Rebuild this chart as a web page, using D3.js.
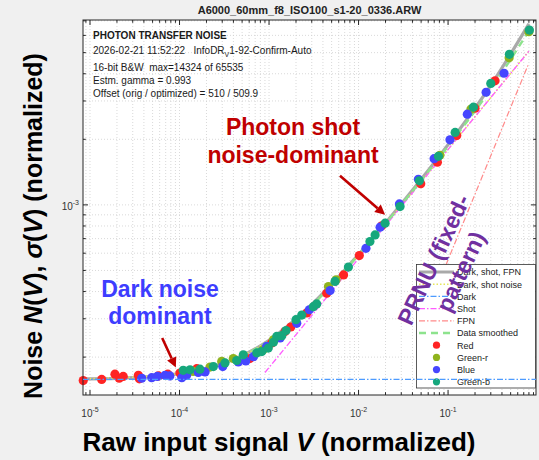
<!DOCTYPE html>
<html>
<head>
<meta charset="utf-8">
<script src="https://cdn.jsdelivr.net/npm/d3@7"></script>
<style>
  html, body { margin: 0; padding: 0; background: #f0f0f0; }
  svg { display: block; font-family: "Liberation Sans", Arial, sans-serif; }
</style>
</head>
<body>
<svg id="chart" width="539" height="460"></svg>
<script>
// ---- Measured noise per channel: signal V (normalized) and noise N(V) ----
const redV = [8.4e-6, 1.35e-5, 1.90e-5, 2.12e-5, 2.35e-5, 3.47e-5, 3.56e-5, 5.8e-5, 7.4e-5, 1.01e-4, 1.56e-4, 6.1e-4, 1.07e-3, 1.51e-3, 1.75e-3, 2.64e-3, 4.41e-3, 6.8e-3, 1.02e-2, 1.82e-2, 4.95e-2, 7.6e-2, 0.125, 0.200, 0.335];
const redN = [1.56e-4, 1.58e-4, 1.67e-4, 1.60e-4, 1.63e-4, 1.65e-4, 1.59e-4, 1.64e-4, 1.67e-4, 1.69e-4, 1.77e-4, 1.97e-4, 2.32e-4, 2.62e-4, 2.75e-4, 3.19e-4, 3.93e-4, 4.77e-4, 5.85e-4, 8.01e-4, 1.25e-3, 1.57e-3, 2.08e-3, 2.78e-3, 3.71e-3];

const greenRV = [1.42e-4, 2.19e-4, 2.96e-4, 3.99e-4, 8.6e-4, 1.12e-3, 4.61e-3, 5.61e-3, 8.1e-2, 0.18, 0.481, 0.80];
const greenRN = [1.72e-4, 1.80e-4, 1.91e-4, 1.97e-4, 2.16e-4, 2.40e-4, 4.22e-4, 4.53e-4, 1.69e-3, 2.75e-3, 4.74e-3, 6.24e-3];

const blueV = [3.78e-5, 4.89e-5, 5.65e-5, 6.9e-5, 7.8e-5, 1.06e-4, 1.20e-4, 1.62e-4, 1.93e-4, 3.04e-4, 4.54e-4, 5.5e-4, 6.7e-4, 9.4e-4, 1.33e-3, 2.04e-3, 2.82e-3, 4.81e-3, 1.21e-2, 1.74e-2, 2.86e-2, 4.66e-2, 6.98e-2, 0.105, 0.164, 0.266, 0.422];
const blueN = [1.60e-4, 1.61e-4, 1.63e-4, 1.65e-4, 1.64e-4, 1.61e-4, 1.65e-4, 1.70e-4, 1.71e-4, 1.81e-4, 1.90e-4, 1.92e-4, 2.01e-4, 2.24e-4, 2.45e-4, 2.86e-4, 3.30e-4, 4.04e-4, 6.32e-4, 7.90e-4, 1.01e-3, 1.31e-3, 1.63e-3, 1.99e-3, 2.61e-3, 3.29e-3, 4.02e-3];

const greenBV = [1.10e-4, 1.31e-4, 1.69e-4, 2.39e-4, 3.22e-4, 4.35e-4, 5.16e-4, 7.3e-4, 8.3e-4, 9.8e-4, 1.12e-3, 1.22e-3, 1.39e-3, 1.55e-3, 2.00e-3, 2.32e-3, 3.13e-3, 3.41e-3, 5.46e-3, 7.7e-3, 1.34e-2, 1.53e-2, 1.98e-2, 2.91e-2, 4.78e-2, 7.8e-2, 0.120, 0.192, 0.300, 0.484, 0.81];
const greenBN = [1.74e-4, 1.75e-4, 1.76e-4, 1.81e-4, 1.88e-4, 1.93e-4, 2.05e-4, 2.09e-4, 2.12e-4, 2.20e-4, 2.34e-4, 2.49e-4, 2.51e-4, 2.65e-4, 2.97e-4, 3.12e-4, 3.41e-4, 3.51e-4, 4.45e-4, 5.18e-4, 6.79e-4, 7.28e-4, 8.24e-4, 9.82e-4, 1.29e-3, 1.67e-3, 2.15e-3, 2.81e-3, 3.61e-3, 4.91e-3, 6.35e-3];

// ---- Model curves (fit) ----
const totalV = [8.35e-6, 1e-5, 3e-5, 1e-4, 3e-4, 1e-3, 3e-3, 1e-2, 3e-2, 0.1, 0.3, 0.8];
const totalN = [1.59e-4, 1.59e-4, 1.61e-4, 1.68e-4, 1.86e-4, 2.39e-4, 3.49e-4, 5.92e-4, 1.01e-3, 1.89e-3, 3.54e-3, 6.78e-3];

const darkShotV = [8.35e-6, 1e-4, 3e-4, 1e-3, 3e-3, 1e-2, 3e-2, 0.1, 0.3, 0.8];
const darkShotN = [1.59e-4, 1.68e-4, 1.86e-4, 2.39e-4, 3.47e-4, 5.89e-4, 9.97e-4, 1.80e-3, 3.11e-3, 5.08e-3];

const darkV = [8.35e-6, 0.96];
const darkN = [1.58e-4, 1.58e-4];

const shotV = [9.0e-4, 0.8];
const shotN = [1.70e-4, 5.08e-3];

const fpnV = [0.06, 0.78];
const fpnN = [3.36e-4, 4.37e-3];

const smoothV = [2e-4, 5e-4, 1e-3, 3e-3, 1e-2, 3e-2, 0.1, 0.3, 0.8];
const smoothN = [1.80e-4, 2.03e-4, 2.38e-4, 3.45e-4, 5.90e-4, 1.00e-3, 1.86e-3, 3.40e-3, 6.30e-3];

// ---- Axes ----
const xDomain = [8.35e-6, 0.96];
const yDomain = [1.34e-4, 7.06e-3];
const xMajorTicks = [1e-5, 1e-4, 1e-3, 1e-2, 1e-1];
const xTickExps = ["-5", "-4", "-3", "-2", "-1"];
const yMajorTicks = [1e-3];
const yTickExps = ["-3"];

const titleText = "A6000_60mm_f8_ISO100_s1-20_0336.ARW";

const seriesColors = { red: "#ff2424", greenR: "#8fb31d", blue: "#4646ff", greenB: "#16a77c" };

const svg = d3.select("#chart");
const m = { left: 83, right: 536, top: 20, bottom: 395 };

const x = d3.scaleLog().domain(xDomain).range([m.left, m.right]);
const y = d3.scaleLog().domain(yDomain).range([m.bottom, m.top]);

// 1..9 x 10^k ticks inside a log domain
function logTicks(domain) {
  const out = [];
  for (let e = Math.floor(Math.log10(domain[0])); e <= Math.ceil(Math.log10(domain[1])); e++) {
    for (let k = 1; k <= 9; k++) {
      const v = k * Math.pow(10, e);
      if (v >= domain[0] && v <= domain[1]) out.push(v);
    }
  }
  return out;
}
const xAll = logTicks(xDomain);
const yAll = logTicks(yDomain);

// plot background
svg.append("rect").attr("x", m.left).attr("y", m.top)
  .attr("width", m.right - m.left).attr("height", m.bottom - m.top)
  .attr("fill", "#ffffff");

// grid
const grid = svg.append("g").attr("stroke", "#cfcfcf").attr("stroke-width", 0.8)
  .attr("stroke-dasharray", "1,2");
grid.selectAll("line.gx").data(xAll).enter().append("line")
  .attr("x1", d => x(d)).attr("x2", d => x(d))
  .attr("y1", m.top).attr("y2", m.bottom);
grid.selectAll("line.gy").data(yAll).enter().append("line")
  .attr("y1", d => y(d)).attr("y2", d => y(d))
  .attr("x1", m.left).attr("x2", m.right);

svg.append("clipPath").attr("id", "plotClip").append("rect")
  .attr("x", m.left).attr("y", m.top)
  .attr("width", m.right - m.left).attr("height", m.bottom - m.top);

const lineGen = d3.line().x(d => x(d[0])).y(d => y(d[1])).curve(d3.curveMonotoneX);
const zipPts = (vs, ns) => vs.map((v, i) => [v, ns[i]]);

const lines = svg.append("g").attr("clip-path", "url(#plotClip)").attr("fill", "none");

lines.append("path").datum(zipPts(fpnV, fpnN)).attr("d", lineGen)
  .attr("stroke", "#ff8a8a").attr("stroke-width", 1.2).attr("stroke-dasharray", "6,2,1.5,2");
lines.append("path").datum(zipPts(totalV, totalN)).attr("d", lineGen)
  .attr("stroke", "#a9a9a9").attr("stroke-width", 3.2);
lines.append("path").datum(zipPts(darkShotV, darkShotN)).attr("d", lineGen)
  .attr("stroke", "#e6e65a").attr("stroke-width", 1.5).attr("stroke-dasharray", "1.5,2");
lines.append("path").datum(zipPts(shotV, shotN)).attr("d", lineGen)
  .attr("stroke", "#ff5cff").attr("stroke-width", 1.3).attr("stroke-dasharray", "6,2,1.5,2");
lines.append("path").datum(zipPts(smoothV, smoothN)).attr("d", lineGen)
  .attr("stroke", "#8de38d").attr("stroke-width", 2.4).attr("stroke-dasharray", "7,5");

// measured points
const series = [
  { v: redV, n: redN, c: seriesColors.red },
  { v: greenRV, n: greenRN, c: seriesColors.greenR },
  { v: blueV, n: blueN, c: seriesColors.blue },
  { v: greenBV, n: greenBN, c: seriesColors.greenB }
];
series.forEach(s => {
  svg.append("g").selectAll("circle").data(zipPts(s.v, s.n)).enter().append("circle")
    .attr("cx", d => x(d[0])).attr("cy", d => y(d[1])).attr("r", 4.6)
    .attr("fill", s.c);
});

// frame and ticks (all four sides, pointing inward)
const ax = svg.append("g").attr("stroke", "#262626").attr("stroke-width", 1);
ax.append("rect").attr("x", m.left).attr("y", m.top)
  .attr("width", m.right - m.left).attr("height", m.bottom - m.top).attr("fill", "none");
xAll.forEach(v => {
  const len = xMajorTicks.includes(v) ? 5 : 2.8;
  ax.append("line").attr("x1", x(v)).attr("x2", x(v)).attr("y1", m.bottom).attr("y2", m.bottom - len);
  ax.append("line").attr("x1", x(v)).attr("x2", x(v)).attr("y1", m.top).attr("y2", m.top + len);
});
yAll.forEach(v => {
  const len = yMajorTicks.includes(v) ? 5 : 2.8;
  ax.append("line").attr("y1", y(v)).attr("y2", y(v)).attr("x1", m.left).attr("x2", m.left + len);
  ax.append("line").attr("y1", y(v)).attr("y2", y(v)).attr("x1", m.right).attr("x2", m.right - len);
});

// tick labels
xMajorTicks.forEach((v, i) => {
  const t = svg.append("text").attr("x", x(v)).attr("y", 417)
    .attr("text-anchor", "middle").attr("font-size", 10).attr("fill", "#333");
  t.append("tspan").text("10");
  t.append("tspan").attr("dy", -5).attr("font-size", 7).text(xTickExps[i]);
});
yMajorTicks.forEach((v, i) => {
  const t = svg.append("text").attr("x", 79).attr("y", y(v) + 5)
    .attr("text-anchor", "end").attr("font-size", 10).attr("fill", "#333");
  t.append("tspan").text("10");
  t.append("tspan").attr("dy", -5).attr("font-size", 7).text(yTickExps[i]);
});

// title
svg.append("text").attr("x", (m.left + m.right) / 2).attr("y", 14)
  .attr("text-anchor", "middle").attr("font-size", 11).attr("font-weight", "bold")
  .attr("fill", "#222").text(titleText);

// info block
const info = svg.append("g").attr("font-size", 10).attr("fill", "#1a1a1a");
info.append("text").attr("x", 93).attr("y", 38.5).attr("font-weight", "bold").text("PHOTON TRANSFER NOISE");
const l2 = info.append("text").attr("x", 93).attr("y", 53.5).attr("xml:space", "preserve");
l2.append("tspan").text("2026-02-21 11:52:22   InfoDR");
l2.append("tspan").attr("font-size", 7).attr("dy", 3).text("V");
l2.append("tspan").attr("dy", -3).text("1-92-Confirm-Auto");
info.append("text").attr("x", 93).attr("y", 70.5).attr("xml:space", "preserve").text("16-bit B&W  max=14324 of 65535");
info.append("text").attr("x", 93).attr("y", 83.5).text("Estm. gamma = 0.993");
info.append("text").attr("x", 93).attr("y", 97).text("Offset (orig / optimized) = 510 / 509.9");

// legend
const legendItems = [
  { label: "Dark, shot, FPN", type: "line", stroke: "#a9a9a9", w: 3.2, dash: null },
  { label: "Dark, shot noise", type: "line", stroke: "#e6e65a", w: 1.5, dash: "1.5,2" },
  { label: "Dark", type: "line", stroke: "#4d9bff", w: 1.3, dash: "6,2,1.5,2" },
  { label: "Shot", type: "line", stroke: "#ff5cff", w: 1.3, dash: "6,2,1.5,2" },
  { label: "FPN", type: "line", stroke: "#ff8a8a", w: 1.2, dash: "6,2,1.5,2" },
  { label: "Data smoothed", type: "line", stroke: "#8de38d", w: 2.4, dash: "7,5" },
  { label: "Red", type: "dot", fill: seriesColors.red },
  { label: "Green-r", type: "dot", fill: seriesColors.greenR },
  { label: "Blue", type: "dot", fill: seriesColors.blue },
  { label: "Green-b", type: "dot", fill: seriesColors.greenB }
];
const lg = svg.append("g");
lg.append("rect").attr("x", 416.5).attr("y", 264.5).attr("width", 119).attr("height", 123.5)
  .attr("fill", "#ffffff").attr("stroke", "#333").attr("stroke-width", 0.8);
legendItems.forEach((d, i) => {
  const cy = 272 + i * 12.2;
  if (d.type === "line") {
    const ln = lg.append("line").attr("x1", 419).attr("x2", 454).attr("y1", cy).attr("y2", cy)
      .attr("stroke", d.stroke).attr("stroke-width", d.w);
    if (d.dash) ln.attr("stroke-dasharray", d.dash);
  } else {
    lg.append("circle").attr("cx", 436.5).attr("cy", cy).attr("r", 3.6).attr("fill", d.fill);
  }
  lg.append("text").attr("x", 457).attr("y", cy + 3.3).attr("font-size", 9).attr("fill", "#222").text(d.label);
});

// dark-noise floor runs across the whole axis, over the legend box
svg.append("path").datum(zipPts(darkV, darkN)).attr("d", lineGen)
  .attr("clip-path", "url(#plotClip)").attr("fill", "none")
  .attr("stroke", "#4d9bff").attr("stroke-width", 1.3).attr("stroke-dasharray", "6,2,1.5,2");

// axis titles
const xl = svg.append("text").attr("x", 279).attr("y", 451).attr("text-anchor", "middle")
  .attr("font-size", 26).attr("font-weight", "bold").attr("fill", "#000");
xl.append("tspan").text("Raw input signal ");
xl.append("tspan").attr("font-style", "italic").text("V");
xl.append("tspan").text(" (normalized)");

const yl = svg.append("text").attr("transform", "translate(42,226) rotate(-90)")
  .attr("text-anchor", "middle").attr("font-size", 25).attr("font-weight", "bold").attr("fill", "#000");
yl.append("tspan").text("Noise ");
yl.append("tspan").attr("font-style", "italic").text("N");
yl.append("tspan").text("(");
yl.append("tspan").attr("font-style", "italic").text("V");
yl.append("tspan").text("), ");
yl.append("tspan").attr("font-style", "italic").text("σ");
yl.append("tspan").text("(");
yl.append("tspan").attr("font-style", "italic").text("V");
yl.append("tspan").text(") (normalized)");

// annotations
function arrow(v0, n0, v1, n1, color) {
  const x0 = x(v0), y0 = y(n0), x1 = x(v1), y1 = y(n1);
  const a = Math.atan2(y1 - y0, x1 - x0);
  const hl = 10, hw = 5;
  const bx = x1 - hl * Math.cos(a), by = y1 - hl * Math.sin(a);
  svg.append("line").attr("x1", x0).attr("y1", y0).attr("x2", bx).attr("y2", by)
    .attr("stroke", color).attr("stroke-width", 2.6);
  svg.append("path")
    .attr("d", `M${x1},${y1}L${bx + hw * Math.sin(a)},${by - hw * Math.cos(a)}L${bx - hw * Math.sin(a)},${by + hw * Math.cos(a)}Z`)
    .attr("fill", color);
}

const darkRed = "#c00000";
const shotAnn = svg.append("g").attr("font-size", 23).attr("font-weight", "bold")
  .attr("fill", darkRed).attr("text-anchor", "middle");
shotAnn.append("text").attr("x", 293).attr("y", 135).text("Photon shot");
shotAnn.append("text").attr("x", 293).attr("y", 163).text("noise-dominant");
arrow(6.2e-3, 1.36e-3, 1.98e-2, 9.0e-4, darkRed);

const darkAnn = svg.append("g").attr("font-size", 23).attr("font-weight", "bold")
  .attr("fill", "#3d3dff").attr("text-anchor", "middle");
darkAnn.append("text").attr("x", 160).attr("y", 297).text("Dark noise");
darkAnn.append("text").attr("x", 160).attr("y", 324).text("dominant");
arrow(6.4e-5, 2.45e-4, 9.1e-5, 1.79e-4, darkRed);

const prnu = svg.append("g").attr("font-size", 23).attr("font-weight", "bold")
  .attr("fill", "#7030a0").attr("text-anchor", "middle");
prnu.append("text").attr("transform", "translate(441,263) rotate(-65)").text("PRNU (fixed-");
prnu.append("text").attr("transform", "translate(468,275) rotate(-65)").text("pattern)");
</script>
</body>
</html>
